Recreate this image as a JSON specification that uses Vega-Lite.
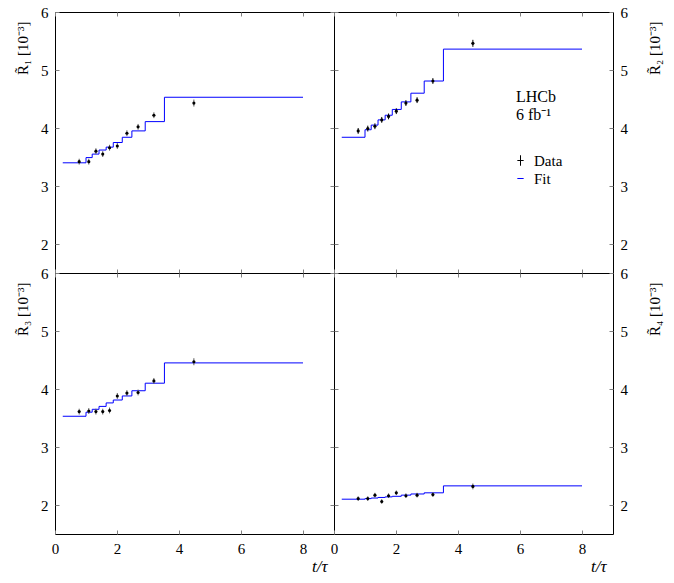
{
  "$schema": "https://vega.github.io/schema/vega-lite/v6.json",
  "padding": {"left": 15, "top": 4, "right": 5, "bottom": 5},
  "background": "white",
  "config": {
    "view": {"stroke": "black", "strokeWidth": 1},
    "font": "Liberation Serif",
    "axis": {
      "domain": false, "grid": false, "tickColor": "#808080", "tickSize": -4, "tickWidth": 1,
      "labelFont": "Liberation Serif", "labelFontSize": 15, "labelColor": "black", "labelPadding": 11,
      "titleFont": "Liberation Serif", "titleFontSize": 15, "titleFontWeight": "normal", "titleColor": "black",
      "labelFlush": false
    }
  },
  "datasets": {
    "fit": [
      {"p": "R1", "t": 0.25, "v": 3.40}, {"p": "R1", "t": 1.0, "v": 3.49}, {"p": "R1", "t": 1.2, "v": 3.55}, {"p": "R1", "t": 1.42, "v": 3.62}, {"p": "R1", "t": 1.65, "v": 3.67}, {"p": "R1", "t": 1.88, "v": 3.75}, {"p": "R1", "t": 2.17, "v": 3.84}, {"p": "R1", "t": 2.48, "v": 3.95}, {"p": "R1", "t": 2.91, "v": 4.11}, {"p": "R1", "t": 3.53, "v": 4.53}, {"p": "R1", "t": 8.0, "v": 4.53},
      {"p": "R2", "t": 0.25, "v": 3.84}, {"p": "R2", "t": 1.0, "v": 3.97}, {"p": "R2", "t": 1.2, "v": 4.05}, {"p": "R2", "t": 1.42, "v": 4.14}, {"p": "R2", "t": 1.65, "v": 4.22}, {"p": "R2", "t": 1.88, "v": 4.32}, {"p": "R2", "t": 2.17, "v": 4.45}, {"p": "R2", "t": 2.48, "v": 4.60}, {"p": "R2", "t": 2.91, "v": 4.81}, {"p": "R2", "t": 3.53, "v": 5.36}, {"p": "R2", "t": 8.0, "v": 5.36},
      {"p": "R3", "t": 0.25, "v": 3.53}, {"p": "R3", "t": 1.0, "v": 3.60}, {"p": "R3", "t": 1.2, "v": 3.65}, {"p": "R3", "t": 1.42, "v": 3.70}, {"p": "R3", "t": 1.65, "v": 3.76}, {"p": "R3", "t": 1.88, "v": 3.81}, {"p": "R3", "t": 2.17, "v": 3.88}, {"p": "R3", "t": 2.48, "v": 3.97}, {"p": "R3", "t": 2.91, "v": 4.10}, {"p": "R3", "t": 3.53, "v": 4.45}, {"p": "R3", "t": 8.0, "v": 4.45},
      {"p": "R4", "t": 0.25, "v": 2.10}, {"p": "R4", "t": 1.0, "v": 2.11}, {"p": "R4", "t": 1.2, "v": 2.12}, {"p": "R4", "t": 1.42, "v": 2.13}, {"p": "R4", "t": 1.65, "v": 2.14}, {"p": "R4", "t": 1.88, "v": 2.15}, {"p": "R4", "t": 2.17, "v": 2.17}, {"p": "R4", "t": 2.48, "v": 2.19}, {"p": "R4", "t": 2.91, "v": 2.21}, {"p": "R4", "t": 3.53, "v": 2.33}, {"p": "R4", "t": 8.0, "v": 2.33}
    ],
    "pts": [
      {"p": "R1", "t": 0.78, "v": 3.42, "lo": 3.37, "hi": 3.47}, {"p": "R1", "t": 1.09, "v": 3.42, "lo": 3.37, "hi": 3.47}, {"p": "R1", "t": 1.32, "v": 3.60, "lo": 3.55, "hi": 3.65}, {"p": "R1", "t": 1.54, "v": 3.55, "lo": 3.50, "hi": 3.60}, {"p": "R1", "t": 1.76, "v": 3.66, "lo": 3.61, "hi": 3.71}, {"p": "R1", "t": 2.01, "v": 3.69, "lo": 3.64, "hi": 3.74}, {"p": "R1", "t": 2.32, "v": 3.91, "lo": 3.86, "hi": 3.96}, {"p": "R1", "t": 2.68, "v": 4.02, "lo": 3.97, "hi": 4.07}, {"p": "R1", "t": 3.19, "v": 4.22, "lo": 4.17, "hi": 4.27}, {"p": "R1", "t": 4.48, "v": 4.43, "lo": 4.37, "hi": 4.49},
      {"p": "R2", "t": 0.78, "v": 3.95, "lo": 3.90, "hi": 4.00}, {"p": "R2", "t": 1.09, "v": 3.99, "lo": 3.94, "hi": 4.04}, {"p": "R2", "t": 1.32, "v": 4.03, "lo": 3.98, "hi": 4.08}, {"p": "R2", "t": 1.54, "v": 4.14, "lo": 4.09, "hi": 4.19}, {"p": "R2", "t": 1.76, "v": 4.20, "lo": 4.15, "hi": 4.25}, {"p": "R2", "t": 2.01, "v": 4.29, "lo": 4.24, "hi": 4.34}, {"p": "R2", "t": 2.32, "v": 4.43, "lo": 4.38, "hi": 4.48}, {"p": "R2", "t": 2.68, "v": 4.48, "lo": 4.43, "hi": 4.53}, {"p": "R2", "t": 3.19, "v": 4.81, "lo": 4.76, "hi": 4.86}, {"p": "R2", "t": 4.48, "v": 5.46, "lo": 5.40, "hi": 5.52},
      {"p": "R3", "t": 0.78, "v": 3.61, "lo": 3.56, "hi": 3.66}, {"p": "R3", "t": 1.09, "v": 3.62, "lo": 3.57, "hi": 3.67}, {"p": "R3", "t": 1.32, "v": 3.61, "lo": 3.56, "hi": 3.66}, {"p": "R3", "t": 1.54, "v": 3.61, "lo": 3.56, "hi": 3.66}, {"p": "R3", "t": 1.76, "v": 3.63, "lo": 3.58, "hi": 3.68}, {"p": "R3", "t": 2.01, "v": 3.88, "lo": 3.83, "hi": 3.93}, {"p": "R3", "t": 2.32, "v": 3.93, "lo": 3.88, "hi": 3.98}, {"p": "R3", "t": 2.68, "v": 3.94, "lo": 3.89, "hi": 3.99}, {"p": "R3", "t": 3.19, "v": 4.14, "lo": 4.09, "hi": 4.19}, {"p": "R3", "t": 4.48, "v": 4.47, "lo": 4.41, "hi": 4.53},
      {"p": "R4", "t": 0.78, "v": 2.11, "lo": 2.07, "hi": 2.15}, {"p": "R4", "t": 1.09, "v": 2.11, "lo": 2.07, "hi": 2.15}, {"p": "R4", "t": 1.32, "v": 2.17, "lo": 2.13, "hi": 2.21}, {"p": "R4", "t": 1.54, "v": 2.06, "lo": 2.02, "hi": 2.10}, {"p": "R4", "t": 1.76, "v": 2.16, "lo": 2.12, "hi": 2.20}, {"p": "R4", "t": 2.01, "v": 2.21, "lo": 2.17, "hi": 2.25}, {"p": "R4", "t": 2.32, "v": 2.16, "lo": 2.12, "hi": 2.20}, {"p": "R4", "t": 2.68, "v": 2.17, "lo": 2.13, "hi": 2.21}, {"p": "R4", "t": 3.19, "v": 2.18, "lo": 2.14, "hi": 2.22}, {"p": "R4", "t": 4.48, "v": 2.32, "lo": 2.27, "hi": 2.37}
    ],
    "notes": [
      {"label": "LHCb", "t": 5.87, "v": 4.53},
      {"label": "6 fb⁻¹", "t": 5.87, "v": 4.22}
    ]
  },
  "columns": 2,
  "spacing": 0,
  "bounds": "flush",
  "concat": [
    {
      "width": 279, "height": 261,
      "layer": [
        {
          "data": {"name": "fit"}, "transform": [{"filter": "datum.p == 'R1'"}],
          "mark": {"type": "line", "interpolate": "step-after", "color": "#0000ff", "strokeWidth": 1},
          "encoding": {
            "x": {"field": "t", "type": "quantitative", "scale": {"domain": [0, 9], "nice": false}, "axis": {"orient": "bottom", "values": [0, 2, 4, 6, 8], "labels": false, "title": null}},
            "y": {"field": "v", "type": "quantitative", "scale": {"domain": [1.5, 6], "nice": false}, "axis": {"orient": "left", "values": [2, 3, 4, 5, 6], "title": "R̃₁ [10⁻³]", "titleAnchor": "end", "titleY": 9, "titleAlign": "right", "titlePadding": 10}}
          }
        },
        {
          "data": {"name": "pts"}, "transform": [{"filter": "datum.p == 'R1'"}],
          "mark": {"type": "rule", "color": "#555555", "strokeWidth": 1},
          "encoding": {
            "x": {"field": "t", "type": "quantitative", "axis": {"orient": "top", "values": [0, 2, 4, 6, 8], "labels": false, "title": null}},
            "y": {"field": "lo", "type": "quantitative", "axis": {"orient": "right", "values": [2, 3, 4, 5, 6], "labels": false, "title": null}},
            "y2": {"field": "hi"}
          }
        },
        {
          "data": {"name": "pts"}, "transform": [{"filter": "datum.p == 'R1'"}],
          "mark": {"type": "point", "filled": true, "color": "black", "size": 10, "opacity": 1},
          "encoding": {
            "x": {"field": "t", "type": "quantitative", "axis": null},
            "y": {"field": "v", "type": "quantitative", "axis": null}
          }
        }
      ],
      "resolve": {"axis": {"x": "independent", "y": "independent"}}
    },
    {
      "width": 279, "height": 261,
      "layer": [
        {
          "data": {"name": "fit"}, "transform": [{"filter": "datum.p == 'R2'"}],
          "mark": {"type": "line", "interpolate": "step-after", "strokeWidth": 1},
          "encoding": {
            "x": {"field": "t", "type": "quantitative", "scale": {"domain": [0, 9], "nice": false}, "axis": {"orient": "bottom", "values": [0, 2, 4, 6, 8], "labels": false, "title": null}},
            "y": {"field": "v", "type": "quantitative", "scale": {"domain": [1.5, 6], "nice": false}, "axis": {"orient": "left", "values": [2, 3, 4, 5, 6], "labels": false, "title": null}},
            "color": {"datum": "Fit", "type": "nominal", "scale": {"domain": ["Data", "Fit"], "range": ["black", "#0000ff"]},
              "legend": {"orient": "none", "legendX": 458, "legendY": 141, "title": null, "labelFont": "Liberation Serif", "labelFontSize": 15, "labelColor": "black", "symbolStrokeWidth": 1, "symbolSize": 110, "rowPadding": 2, "labelOffset": 6,
                "encode": {"symbols": {"update": {"shape": {"signal": "datum.value === 'Data' ? 'M0,-1L0,1M-0.6,0L0.6,0' : 'M-0.6,0L0.6,0'"}}}}}}
          }
        },
        {
          "data": {"name": "pts"}, "transform": [{"filter": "datum.p == 'R2'"}],
          "mark": {"type": "rule", "strokeWidth": 1},
          "encoding": {
            "x": {"field": "t", "type": "quantitative", "axis": {"orient": "top", "values": [0, 2, 4, 6, 8], "labels": false, "title": null}},
            "y": {"field": "lo", "type": "quantitative", "axis": {"orient": "right", "values": [2, 3, 4, 5, 6], "title": "R̃₂ [10⁻³]", "titleAnchor": "end", "titleAngle": 270, "titleBaseline": "top", "titleY": 9, "titleAlign": "right", "titlePadding": 20}},
            "y2": {"field": "hi"},
            "color": {"datum": "Data", "type": "nominal"}
          }
        },
        {
          "data": {"name": "pts"}, "transform": [{"filter": "datum.p == 'R2'"}],
          "mark": {"type": "point", "filled": true, "color": "black", "size": 10, "opacity": 1},
          "encoding": {
            "x": {"field": "t", "type": "quantitative", "axis": null},
            "y": {"field": "v", "type": "quantitative", "axis": null}
          }
        },
        {
          "data": {"name": "notes"},
          "mark": {"type": "text", "align": "left", "baseline": "middle", "font": "Liberation Serif", "fontSize": 16, "color": "black"},
          "encoding": {
            "x": {"field": "t", "type": "quantitative", "axis": null},
            "y": {"field": "v", "type": "quantitative", "axis": null},
            "text": {"field": "label"}
          }
        }
      ],
      "resolve": {"axis": {"x": "independent", "y": "independent"}}
    },
    {
      "width": 279, "height": 261,
      "layer": [
        {
          "data": {"name": "fit"}, "transform": [{"filter": "datum.p == 'R3'"}],
          "mark": {"type": "line", "interpolate": "step-after", "color": "#0000ff", "strokeWidth": 1},
          "encoding": {
            "x": {"field": "t", "type": "quantitative", "scale": {"domain": [0, 9], "nice": false}, "axis": {"orient": "bottom", "values": [0, 2, 4, 6, 8], "title": "t/τ", "titleAnchor": "end", "titleFontStyle": "italic", "titleFontSize": 17, "titlePadding": 2, "titleX": 272}},
            "y": {"field": "v", "type": "quantitative", "scale": {"domain": [1.5, 6], "nice": false}, "axis": {"orient": "left", "values": [2, 3, 4, 5, 6], "title": "R̃₃ [10⁻³]", "titleAnchor": "end", "titleY": 9, "titleAlign": "right", "titlePadding": 10}}
          }
        },
        {
          "data": {"name": "pts"}, "transform": [{"filter": "datum.p == 'R3'"}],
          "mark": {"type": "rule", "color": "#555555", "strokeWidth": 1},
          "encoding": {
            "x": {"field": "t", "type": "quantitative", "axis": {"orient": "top", "values": [0, 2, 4, 6, 8], "labels": false, "title": null}},
            "y": {"field": "lo", "type": "quantitative", "axis": {"orient": "right", "values": [2, 3, 4, 5, 6], "labels": false, "title": null}},
            "y2": {"field": "hi"}
          }
        },
        {
          "data": {"name": "pts"}, "transform": [{"filter": "datum.p == 'R3'"}],
          "mark": {"type": "point", "filled": true, "color": "black", "size": 10, "opacity": 1},
          "encoding": {
            "x": {"field": "t", "type": "quantitative", "axis": null},
            "y": {"field": "v", "type": "quantitative", "axis": null}
          }
        }
      ],
      "resolve": {"axis": {"x": "independent", "y": "independent"}}
    },
    {
      "width": 279, "height": 261,
      "layer": [
        {
          "data": {"name": "fit"}, "transform": [{"filter": "datum.p == 'R4'"}],
          "mark": {"type": "line", "interpolate": "step-after", "color": "#0000ff", "strokeWidth": 1},
          "encoding": {
            "x": {"field": "t", "type": "quantitative", "scale": {"domain": [0, 9], "nice": false}, "axis": {"orient": "bottom", "values": [0, 2, 4, 6, 8], "title": "t/τ", "titleAnchor": "end", "titleFontStyle": "italic", "titleFontSize": 17, "titlePadding": 2, "titleX": 272}},
            "y": {"field": "v", "type": "quantitative", "scale": {"domain": [1.5, 6], "nice": false}, "axis": {"orient": "left", "values": [2, 3, 4, 5, 6], "labels": false, "title": null}}
          }
        },
        {
          "data": {"name": "pts"}, "transform": [{"filter": "datum.p == 'R4'"}],
          "mark": {"type": "rule", "color": "#555555", "strokeWidth": 1},
          "encoding": {
            "x": {"field": "t", "type": "quantitative", "axis": {"orient": "top", "values": [0, 2, 4, 6, 8], "labels": false, "title": null}},
            "y": {"field": "lo", "type": "quantitative", "axis": {"orient": "right", "values": [2, 3, 4, 5, 6], "title": "R̃₄ [10⁻³]", "titleAnchor": "end", "titleAngle": 270, "titleBaseline": "top", "titleY": 9, "titleAlign": "right", "titlePadding": 20}},
            "y2": {"field": "hi"}
          }
        },
        {
          "data": {"name": "pts"}, "transform": [{"filter": "datum.p == 'R4'"}],
          "mark": {"type": "point", "filled": true, "color": "black", "size": 10, "opacity": 1},
          "encoding": {
            "x": {"field": "t", "type": "quantitative", "axis": null},
            "y": {"field": "v", "type": "quantitative", "axis": null}
          }
        }
      ],
      "resolve": {"axis": {"x": "independent", "y": "independent"}}
    }
  ]
}
